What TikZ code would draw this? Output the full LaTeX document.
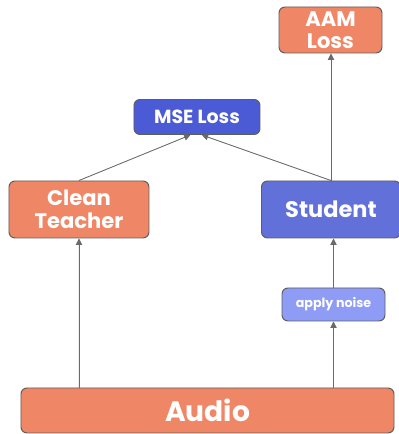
\documentclass[tikz,border=0pt]{standalone}
\usepackage{fontspec}
\setmainfont{Poppins}
\usetikzlibrary{
    arrows.meta,
    positioning
}
\definecolor{salmon}{HTML}{EF8766}
\definecolor{mseblue}{HTML}{4B5AD5}
\definecolor{studblue}{HTML}{6270DA}
\definecolor{noiseblue}{HTML}{8F9CF5}
\definecolor{edgegray}{HTML}{5E5E5E}
\definecolor{linegray}{HTML}{6A6A6A}

\begin{document}
\begin{tikzpicture}[
    node distance=2cm,
    block/.style={rectangle, rounded corners=0.15cm, draw=edgegray, line width=0.7pt,
                  text=white, align=center, font=\bfseries, inner sep=0pt},
    orangebox/.style={block, fill=salmon},
    arrow/.style={-{Triangle[length=4.5pt,width=4.5pt]}, draw=linegray, fill=linegray, line width=0.6pt}
]
    \useasboundingbox (-5.1875,-0.5875) rectangle (4.7625,10.2625);

    % Input
    \node (audio) [orangebox, minimum width=9.325cm, minimum height=1.125cm,
                   font=\bfseries\fontsize{20}{22}\selectfont] {Audio};

    % Models
    \node (teacher) [orangebox, above of=audio, xshift=-3.2125cm, yshift=3.025cm,
                     minimum width=3.5cm, minimum height=1.425cm,
                     font=\bfseries\fontsize{15}{16}\selectfont] {Clean\\Teacher};
    \node (student) [block, fill=studblue, right of=teacher, xshift=4.3cm,
                     minimum width=3.475cm, minimum height=1.425cm,
                     font=\bfseries\fontsize{16}{18}\selectfont] {Student};
    \node (noise) [block, fill=noiseblue, below of=student, xshift=0.0625cm, yshift=-0.375cm,
                   minimum width=2.575cm, minimum height=0.825cm,
                   font=\bfseries\fontsize{9}{10}\selectfont] {apply noise};

    % Losses
    \node (mse) [block, fill=mseblue, above of=teacher, xshift=2.95cm, yshift=0.3125cm,
                 minimum width=3.15cm, minimum height=0.875cm,
                 font=\bfseries\fontsize{13.5}{15}\selectfont] {MSE Loss};
    \node (aam) [orangebox, above of=student, xshift=-0.0125cm, yshift=2.4875cm,
                 minimum width=2.575cm, minimum height=1.15cm,
                 font=\bfseries\fontsize{15}{15.5}\selectfont] {AAM\\Loss};

    % Connections
    \draw [arrow] (audio.north -| teacher.south) -- (teacher.south);
    \draw [arrow] (audio.north -| noise.south) -- (noise.south);
    \draw [arrow] (noise.north) -- (noise.north |- student.south);
    \draw [arrow] (teacher.north) -- (mse.250);
    \draw [arrow] (student.north) -- (mse.285);
    \draw [arrow] (student.north) -- (aam.south -| student.north);

\end{tikzpicture}
\end{document}
